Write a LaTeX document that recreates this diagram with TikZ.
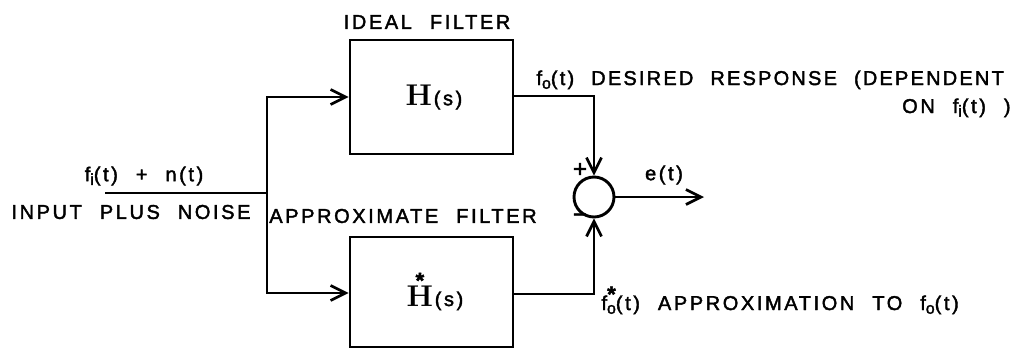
\documentclass[tikz,border=0pt]{standalone}
\usepackage{fontspec}
\setmainfont{Liberation Sans}[LetterSpace=13,WordSpace=2.2,FakeBold=2]
\newfontfamily\hfont{Latin Modern Roman}
\usetikzlibrary{arrows.meta}
\newcommand\lowsub[1]{\raisebox{-0.35ex}{\fontsize{16}{16}\selectfont #1}}
\newcommand\starover[2][1.0em]{\ooalign{#2\cr\hidewidth\raisebox{#1}{\normalfont\fontsize{22}{22}\selectfont\bfseries *}\hidewidth\cr}}
\tikzset{
  lbl/.style={inner sep=0pt, font=\fontsize{20}{22}\selectfont},
  box/.style={draw, minimum width=163pt, inner sep=0pt},
  sumc/.style={draw, circle, minimum size=40pt, inner sep=0pt},
  conn/.style={line width=2.7pt},
}
\begin{document}
\begin{tikzpicture}[x=1pt,y=-1pt, line width=2.9pt,
  >={Straight Barb[length=15pt,width=15pt,line width=2.7pt]}]
\useasboundingbox (0,0) rectangle (1033,349);
% boxes
\node[box, minimum height=114pt] (H) at (431.5,97) {};
\node[box, minimum height=110pt] (Hs) at (431.5,292) {};
\node[inner sep=0pt] (Hl) at (434,97) {{\hfont\bfseries\fontsize{30}{30}\selectfont H}\,{\fontsize{20}{22}\selectfont (s)}};
\node[inner sep=0pt, anchor=base] (Hsl) at (435,306) {{\hfont\bfseries\fontsize{30}{30}\selectfont \starover[0.6em]{H}}\,{\fontsize{20}{22}\selectfont (s)}};
% sum
\node[sumc] (S) at (594,197) {};
% split and coordinates
\coordinate (in) at (105,193);
\coordinate (sp) at (267,193);
\coordinate (spT) at (267,97);
\coordinate (spB) at (267,293);
\coordinate (oT) at (594,96);
\coordinate (oB) at (594,294);
\coordinate (out) at (704,197);
% connectors
\draw[conn] (in) -- (sp);
\draw[conn,->] (sp) -- (spT) -- (H.west |- spT);
\draw[conn,->] (sp) -- (spB) -- (Hs.west |- spB);
\draw[conn,->] (H.east |- oT) -- (oT) -- (S.north);
\draw[conn,->] (Hs.east |- oB) -- (oB) -- (S.south);
\draw[conn,->] (S.east) -- (out);
% labels
\node[lbl] (t1) at (427,22) {IDEAL FILTER};
\node[lbl] (t2) at (144,176) {f\lowsub{i}(t) + n(t)};
\node[lbl] (t3) at (131,212) {INPUT PLUS NOISE};
\node[lbl] (t4) at (403,216) {APPROXIMATE FILTER};
\node[lbl, anchor=base west] (t5) at (535,85) {\addfontfeatures{LetterSpace=11}f\lowsub{o}(t) DESIRED RESPONSE (DEPENDENT};
\node[lbl, anchor=base east] (t6) at (1012,113) {ON f\lowsub{i}(t) )};
\node[lbl] (t7) at (664,175) {e(t)};
\node[lbl, font=\fontsize{24}{24}\selectfont] (tp) at (580,170) {+};
\node[lbl, font=\fontsize{24}{24}\selectfont] (tm) at (580,218) {\textminus};
\node[lbl, anchor=base west] (t8) at (600,310) {f\lowsub{\starover[0.75em]{o}}(t) APPROXIMATION TO f\lowsub{o}(t)};
\end{tikzpicture}
\end{document}
